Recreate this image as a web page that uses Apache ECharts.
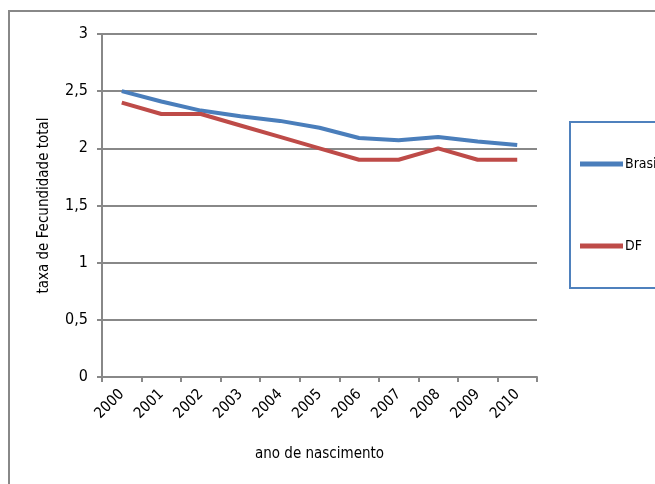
<!DOCTYPE html>
<html>
<head>
<meta charset="utf-8">
<script src="https://cdn.jsdelivr.net/npm/echarts@6/dist/echarts.min.js"></script>
<style>
  html, body { margin: 0; padding: 0; background: #fff; }
  #chart { width: 655px; height: 484px; }
</style>
</head>
<body>
<div id="chart"></div>
<script>
// Taxa de fecundidade total por ano de nascimento
const anos = ['2000', '2001', '2002', '2003', '2004', '2005', '2006', '2007', '2008', '2009', '2010'];
const brasil = [2.5, 2.41, 2.33, 2.28, 2.24, 2.18, 2.09, 2.07, 2.1, 2.06, 2.03];
const df = [2.4, 2.3, 2.3, 2.2, 2.1, 2.0, 1.9, 1.9, 2.0, 1.9, 1.9];
const yTicks = [0, 0.5, 1, 1.5, 2, 2.5, 3];

const FONT = '"DejaVu Sans Condensed", "Liberation Sans Narrow", "Liberation Sans", sans-serif';
const GRAY = '#888888';

const chart = echarts.init(document.getElementById('chart'));
chart.setOption({
  animation: false,
  textStyle: { fontFamily: FONT, color: '#000' },
  grid: { left: 102, right: 118, top: 34, bottom: 107 },
  graphic: [
    {
      type: 'rect', z: -1,
      shape: { x: 9, y: 11, width: 700, height: 520 },
      style: { fill: 'none', stroke: GRAY, lineWidth: 2 }
    },
    {
      type: 'rect',
      shape: { x: 570, y: 122, width: 120, height: 166 },
      style: { fill: '#fff', stroke: '#4f81bd', lineWidth: 2 }
    }
  ],
  legend: {
    orient: 'vertical',
    left: 575,
    top: 152,
    itemGap: 68,
    itemWidth: 43,
    itemHeight: 5,
    icon: 'rect',
    textStyle: { fontFamily: FONT, fontSize: 14, color: '#000', padding: [0, 0, 0, -3] },
    data: ['Brasil', 'DF']
  },
  xAxis: {
    type: 'category',
    data: anos,
    boundaryGap: true,
    name: 'ano de nascimento',
    nameLocation: 'middle',
    nameGap: 70,
    nameTextStyle: { fontFamily: FONT, fontSize: 15, color: '#000' },
    axisLine: { lineStyle: { color: GRAY, width: 2 } },
    axisTick: { show: true, length: 5, inside: false, lineStyle: { color: GRAY, width: 2 } },
    axisLabel: { rotate: 45, fontSize: 15, color: '#000', margin: 15, fontFamily: FONT }
  },
  yAxis: {
    type: 'value',
    min: 0,
    max: 3,
    interval: 0.5,
    name: 'taxa de Fecundidade total',
    nameLocation: 'middle',
    nameGap: 50,
    nameRotate: 90,
    nameTextStyle: { fontFamily: FONT, fontSize: 15, color: '#000' },
    axisLine: { show: true, lineStyle: { color: GRAY, width: 2 } },
    axisTick: { show: true, length: 5, lineStyle: { color: GRAY, width: 2 } },
    splitLine: { lineStyle: { color: GRAY, width: 2 } },
    axisLabel: {
      fontSize: 16, color: '#000', margin: 14, fontFamily: FONT,
      formatter: v => yTicks.includes(v) ? String(v).replace('.', ',') : ''
    }
  },
  series: [
    {
      name: 'Brasil', type: 'line', data: brasil,
      showSymbol: false, symbol: 'none',
      lineStyle: { color: '#4a7ebb', width: 4 },
      itemStyle: { color: '#4a7ebb' }
    },
    {
      name: 'DF', type: 'line', data: df,
      showSymbol: false, symbol: 'none',
      lineStyle: { color: '#be4b48', width: 4 },
      itemStyle: { color: '#be4b48' }
    }
  ]
});
</script>
</body>
</html>
